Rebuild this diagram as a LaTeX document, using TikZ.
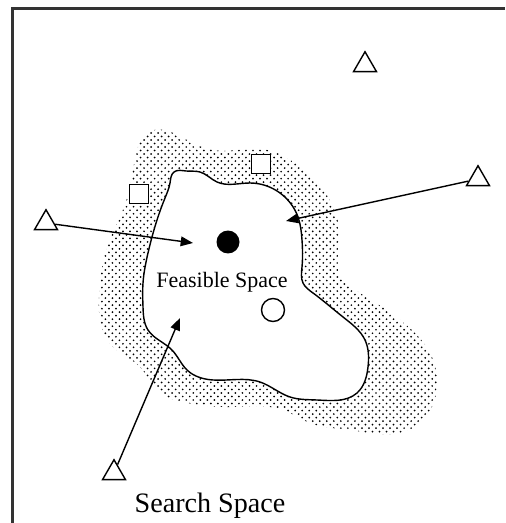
\documentclass[tikz,border=0pt]{standalone}
\usepackage{fontspec}
\setmainfont{Liberation Serif}
\usepackage{tikz}
\usetikzlibrary{hobby}
\usetikzlibrary{patterns,shapes.geometric,arrows.meta,positioning}
\def\TriSize{0.53cm}
\def\BoxSize{0.38cm}
\def\DotSize{0.46cm}

\pgfdeclarepatternformonly{speckle}{\pgfqpoint{-1pt}{-1pt}}{\pgfqpoint{4pt}{4pt}}{\pgfqpoint{4pt}{4pt}}{
	\pgfpathcircle{\pgfqpoint{0pt}{0pt}}{0.55pt}
	\pgfpathcircle{\pgfqpoint{2pt}{2pt}}{0.55pt}
	\pgfusepath{fill}
}

\tikzset{
	cand/.style={draw,regular polygon,regular polygon sides=3,minimum size=\TriSize,inner sep=0pt,line width=0.8pt},
	infeas/.style={draw,fill=white,minimum size=\BoxSize,inner sep=0pt,line width=0.9pt},
	sol/.style={circle,minimum size=\DotSize,inner sep=0pt,line width=0.8pt},
	move/.style={line width=0.8pt,-{Triangle[length=7pt,width=5.5pt]}},
}

\begin{document}
\begin{tikzpicture}[x=0.02cm,y=-0.02cm]
	\useasboundingbox (0,0) rectangle (505,523);
	\draw[line width=1.3pt,black!80] (12.5,523) -- (12.5,8.5) -- (505,8.5);
	% search region
	\fill[pattern=speckle,use Hobby shortcut,closed=true] (147,133) .. (187,140) .. (213,150) .. (267,150) .. (300,167) .. (323,190) .. (337,217) .. (338,253) .. (340,275) .. (360,293) .. (400,320) .. (430,353) .. (437,387) .. (423,420) .. (400,433) .. (350,430) .. (310,423) .. (283,410) .. (233,407) .. (187,403) .. (157,390) .. (140,367) .. (113,347) .. (100,320) .. (100,283) .. (107,247) .. (120,217) .. (130,187) .. (137,150);
	% feasible region
	\draw[line width=0.8pt,fill=white,use Hobby shortcut,closed=true] (174,172) .. (186,171) .. (200,172) .. (217,182) .. (250,183) .. (280,193) .. (298,217) .. (302,240) .. (302,267) .. (303,283) .. (313,293) .. (343,317) .. (365,340) .. (368,367) .. (357,393) .. (317,400) .. (290,397) .. (260,382) .. (213,380) .. (187,370) .. (172,350) .. (148,330) .. (143,307) .. (143,283) .. (148,253) .. (157,220) .. (165,198) .. (170,183);
	\node[cand] (t1) at (365,65) {};
	\node[cand] (t2) at (478,179) {};
	\node[cand] (t3) at (46,223) {};
	\node[cand] (t4) at (114,473) {};
	\node[infeas] (s1) at (139,194) {};
	\node[infeas] (s2) at (261,164) {};
	\node[sol,fill] (best) at (228,242) {};
	\node[sol,draw] (feas) at (273,310) {};
	\node[font=\fontsize{12.5}{14}\selectfont,anchor=base] (fslabel) at (222,287) {Feasible Space};
	\node[font=\fontsize{16}{18}\selectfont,anchor=base] (sslabel) at (210,512) {Search Space};
	\coordinate (h1) at (193,243);
	\coordinate (h2) at (286,221);
	\coordinate (h3) at (180,318);
	\draw[move] (t3) -- (h1);
	\draw[move] (t2) -- (h2);
	\draw[move] (t4) -- (h3);
\end{tikzpicture}
\end{document}
